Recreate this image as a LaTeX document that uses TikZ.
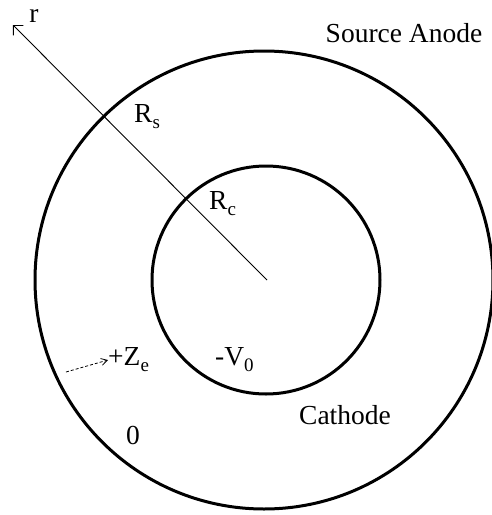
\documentclass[tikz,border=0pt]{standalone}
\usepackage{fontspec}
\setmainfont{Liberation Serif}
\usetikzlibrary{arrows.meta}
\newcommand{\lowsub}[1]{\raisebox{-0.22em}{\fontsize{19}{19}\selectfont #1}}
\tikzset{
  ring/.style={draw=black, line width=3pt},
  lbl/.style={inner sep=0pt, font=\fontsize{27.5}{31}\selectfont},
  radial/.style={draw=black, line width=0.9pt, -{Straight Barb[angle'=90, length=7pt]}},
  zarrow/.style={draw=black, line width=0.8pt, dashed, dash pattern=on 3pt off 2pt, -{Straight Barb[angle'=60, length=6pt]}}
}
\begin{document}
\begin{tikzpicture}[x=1pt, y=-1pt]
  \useasboundingbox (0,0) rectangle (492,515);
  \coordinate (oc) at (264,280);
  \coordinate (ic) at (266,280);
  \node[ring, circle, minimum size=458pt, inner sep=0pt] (anode) at (oc) {};
  \node[ring, circle, minimum size=228pt, inner sep=0pt] (cathode) at (ic) {};
  \coordinate (center) at (267,280);
  \coordinate (rtip) at (13,25);
  \draw[radial] (center) -- (rtip);
  \node[lbl] (r) at (34,16) {r};
  \node[lbl] (src) at (404,33) {Source Anode};
  \node[lbl, anchor=west] (rs) at (134,117) {R\lowsub{s}};
  \node[lbl, anchor=west] (rc) at (209,204) {R\lowsub{c}};
  \node[lbl, anchor=west] (ze) at (108,360) {+Z\lowsub{e}};
  \node[lbl, anchor=west] (v0) at (215,360) {-V\lowsub{0}};
  \node[lbl] (cat) at (345,415) {Cathode};
  \node[lbl] (zero) at (133,435) {0};
  \coordinate (zstart) at (66,372);
  \draw[zarrow] (zstart) -- (ze.west);
\end{tikzpicture}
\end{document}
